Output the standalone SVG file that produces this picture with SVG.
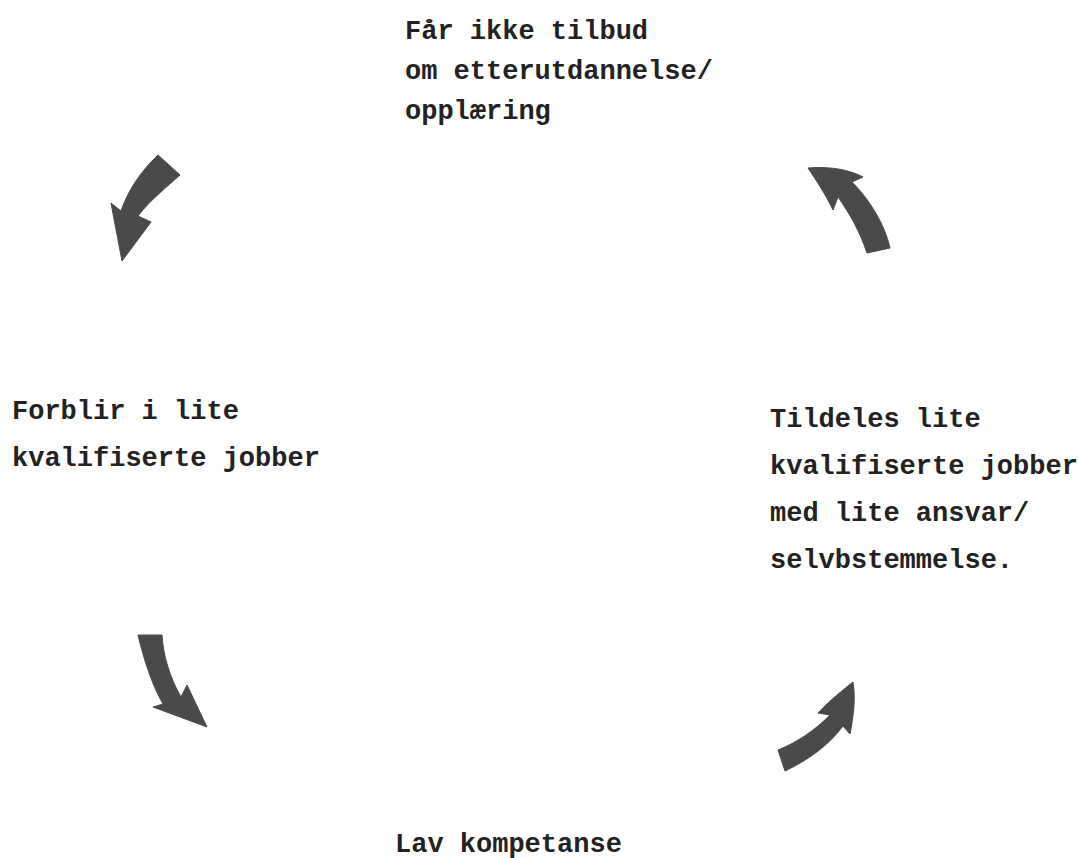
<svg xmlns="http://www.w3.org/2000/svg" width="1079" height="858" viewBox="0 0 1079 858">
  <style>
    .lbl { font-family: "Liberation Mono", "DejaVu Sans Mono", monospace; font-size: 27px; font-weight: bold; fill: #222; }
    .arrow { fill: #4a4a4a; stroke: #4a4a4a; stroke-width: 1; stroke-linejoin: round; }
  </style>
  <rect width="1079" height="858" fill="#ffffff"/>

  <!-- cycle stages -->
  <g id="stage-tilbud">
    <text class="lbl" x="405" y="39">Får ikke tilbud</text>
    <text class="lbl" x="405" y="79">om etterutdannelse/</text>
    <text class="lbl" x="405" y="119">opplæring</text>
  </g>
  <g id="stage-tildeles">
    <text class="lbl" x="770" y="427">Tildeles lite</text>
    <text class="lbl" x="770" y="474">kvalifiserte jobber</text>
    <text class="lbl" x="770" y="521">med lite ansvar/</text>
    <text class="lbl" x="770" y="568">selvbstemmelse.</text>
  </g>
  <g id="stage-kompetanse">
    <text class="lbl" x="395" y="852">Lav kompetanse</text>
  </g>
  <g id="stage-forblir">
    <text class="lbl" x="12" y="419">Forblir i lite</text>
    <text class="lbl" x="12" y="466">kvalifiserte jobber</text>
  </g>

  <!-- curved arrows linking the stages clockwise -->
  <g id="connectors">
    <path class="arrow" d="M158,155 L180,175 C168,186 150,200 138,216 L151,222 L122,261 L111,203 L121,211 C128,190 142,170 158,155 Z"/>
    <path class="arrow" d="M808,168 C830,166 850,170 863,177 L852,182 C870,200 885,225 890,248 L867,253 C860,232 850,214 838,197 L833,210 C826,195 816,180 808,168 Z"/>
    <path class="arrow" d="M138,635 L162,635 C163,655 170,678 181,697 L187,685 L207,727 L153,707 L163,704 C152,685 144,660 138,635 Z"/>
    <path class="arrow" d="M853,682 C856,700 853,718 850,734 L843,726 C828,746 808,760 785,771 L778,750 C798,742 815,730 830,715 L818,713 C830,700 843,690 853,682 Z"/>
  </g>
</svg>
